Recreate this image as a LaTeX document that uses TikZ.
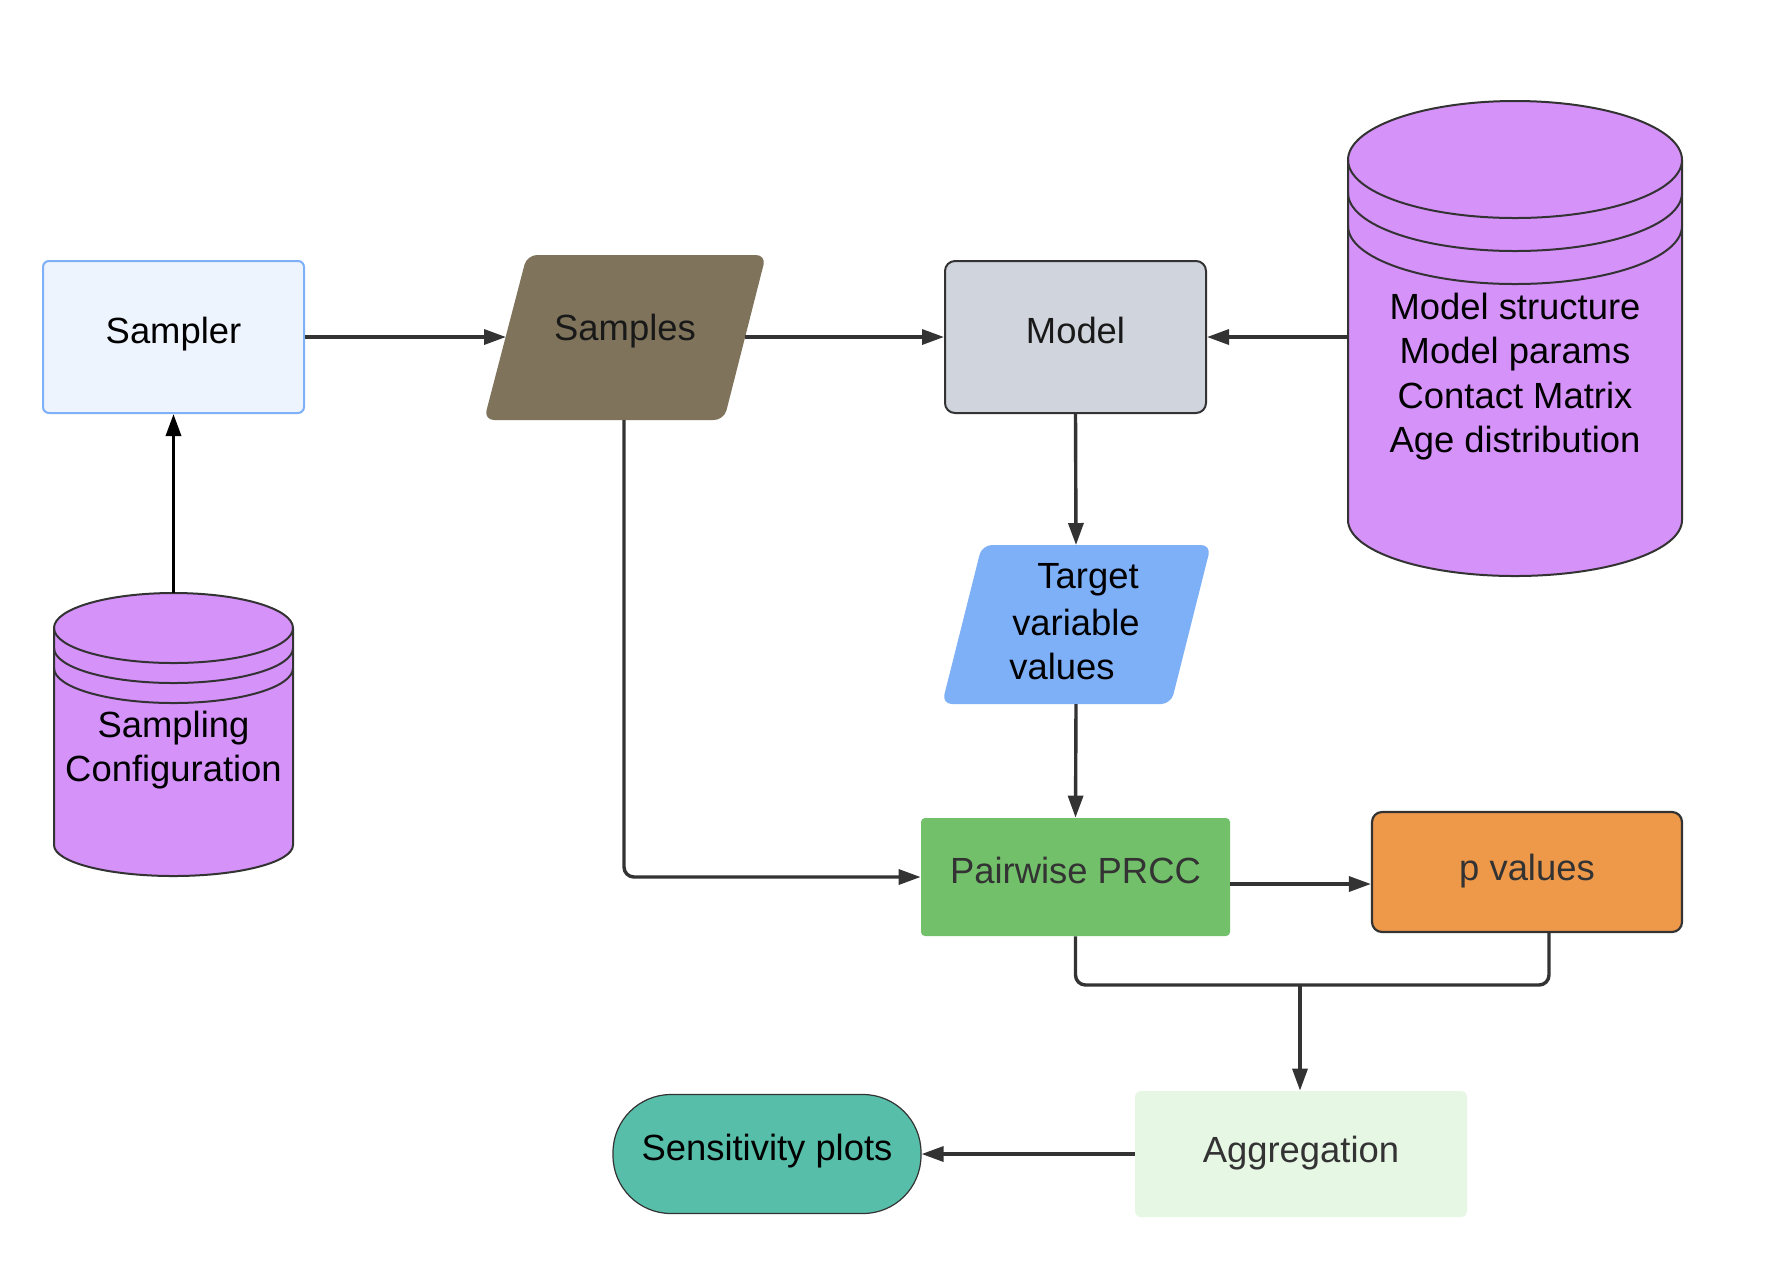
\documentclass[tikz,border=0pt]{standalone}
\usepackage{fontspec}
\setmainfont{Liberation Sans}
\usetikzlibrary{arrows.meta}
\definecolor{dark}{HTML}{333333}
\definecolor{samplerfill}{HTML}{EEF4FE}
\definecolor{samplerdraw}{HTML}{7DB0F7}
\definecolor{samplesfill}{HTML}{7F745B}
\definecolor{modelfill}{HTML}{D0D5DD}
\definecolor{cylfill}{HTML}{D592F9}
\definecolor{targetfill}{HTML}{7EB0F8}
\definecolor{prccfill}{HTML}{73C06B}
\definecolor{pvalfill}{HTML}{EE9849}
\definecolor{aggfill}{HTML}{E6F7E4}
\definecolor{sensfill}{HTML}{57BEAA}
\begin{document}
\begin{tikzpicture}[x=0.5pt,y=-0.5pt,
  font=\fontsize{18.2}{22.3}\selectfont,
  conn/.style={draw=dark, line width=1.7pt, -{Triangle[length=11pt,width=7.5pt]}},
  plainline/.style={draw=dark, line width=1.7pt},
  txt/.style={inner sep=0pt, align=center},
  cylborder/.style={draw=dark, line width=1pt},
  boxnode/.style={rectangle, inner sep=0pt, align=center, text height=13.3pt, text depth=7pt}]

\fill[white] (0,0) rectangle (1766,1266);
\useasboundingbox (0,0) rectangle (1766,1266);

% Sampler
\node[boxnode, fill=samplerfill, draw=samplerdraw, line width=1pt, rounded corners=3pt,
  minimum width=130.5pt, minimum height=76pt, text=black, text depth=7.2pt] (sampler) at (173.5,337) {Sampler};

% Samples parallelogram
\fill[samplesfill, rounded corners=5pt] (484,420) -- (724,420) -- (766,255) -- (527,255) -- cycle;
\node[txt, text=black!90] (samples) at (625,331) {Samples};
\coordinate (samplesW) at (506,337);
\coordinate (samplesE) at (745,337);
\coordinate (samplesS) at (624,420);

% Model
\node[boxnode, fill=modelfill, draw=dark, line width=1pt, rounded corners=5pt,
  minimum width=130.5pt, minimum height=76pt, text=black!90] (model) at (1075.5,337) {Model};

% Big cylinder
\fill[cylfill] (1348,160) -- (1348,520) arc[start angle=180,end angle=0,x radius=167,y radius=56]
  -- (1682,160) arc[start angle=0,end angle=-180,x radius=167,y radius=59] -- cycle;
\draw[cylborder] (1348,160) -- (1348,520) arc[start angle=180,end angle=0,x radius=167,y radius=56]
  -- (1682,160) arc[start angle=0,end angle=-180,x radius=167,y radius=59] -- cycle;
\draw[cylborder] (1348,160) arc[start angle=180,end angle=0,x radius=167,y radius=58];
\draw[cylborder] (1348,193) arc[start angle=180,end angle=0,x radius=167,y radius=58];
\draw[cylborder] (1348,226) arc[start angle=180,end angle=0,x radius=167,y radius=58];
\node[txt, text=black] (bigcyl) at (1515,376.5) {Model structure\\Model params\\Contact Matrix\\Age distribution};
\coordinate (bigW) at (1348,337);

% Sampling configuration cylinder
\fill[cylfill] (54,628) -- (54,845) arc[start angle=180,end angle=0,x radius=119.5,y radius=31]
  -- (293,628) arc[start angle=0,end angle=-180,x radius=119.5,y radius=35] -- cycle;
\draw[cylborder] (54,628) -- (54,845) arc[start angle=180,end angle=0,x radius=119.5,y radius=31]
  -- (293,628) arc[start angle=0,end angle=-180,x radius=119.5,y radius=35] -- cycle;
\draw[cylborder] (54,628) arc[start angle=180,end angle=0,x radius=119.5,y radius=35];
\draw[cylborder] (54,648) arc[start angle=180,end angle=0,x radius=119.5,y radius=35];
\draw[cylborder] (54,668) arc[start angle=180,end angle=0,x radius=119.5,y radius=35];
\node[txt, text=black] (sc) at (173.5,750) {Sampling\\Configuration};
\coordinate (scTop) at (173.5,593);

% Target variable values parallelogram
\fill[targetfill, rounded corners=5pt] (942,704) -- (1171,704) -- (1211,545) -- (982,545) -- cycle;
\node[txt, text=black] (t1) at (1088,580) {Target};
\node[txt, text=black] (t2) at (1076,622) {variable};
\node[txt, text=black] (t3) at (1062,666) {values};
\coordinate (targetN) at (1076,545);
\coordinate (targetS) at (1076,704);

% Pairwise PRCC
\node[boxnode, fill=prccfill, rounded corners=2pt, minimum width=154.5pt, minimum height=59pt,
  text=dark] (prcc) at (1075.5,877) {Pairwise PRCC};

% p values
\node[boxnode, fill=pvalfill, draw=dark, line width=1.1pt, rounded corners=5pt,
  minimum width=155pt, minimum height=60pt, text=dark, text depth=4.8pt] (pval) at (1527,872) {p values};

% Aggregation
\node[boxnode, fill=aggfill, rounded corners=3pt, minimum width=166pt, minimum height=63pt,
  text=dark, text depth=4.8pt] (agg) at (1301,1154) {Aggregation};

% Sensitivity plots
\node[boxnode, fill=sensfill, draw=dark, line width=0.6pt, rounded corners=29pt,
  minimum width=154pt, minimum height=59.5pt, text=black, text depth=6.8pt] (sens) at (767,1154) {Sensitivity plots};

% connectors
\draw[conn, draw=black] (scTop) -- (sampler.south);
\draw[conn] (sampler.east) -- (samplesW);
\draw[conn] (samplesE) -- (model.west);
\draw[conn] (bigW) -- (model.east);
\draw[conn] (model.south) -- (targetN);
\draw[conn] (targetS) -- (prcc.north);
\draw[conn, rounded corners=5pt] (samplesS) |- (prcc.west);
\coordinate (yrow) at (0,884);
\draw[conn] (prcc.east |- yrow) -- (pval.west |- yrow);
\coordinate (j) at (1300,985);
\coordinate (pvB) at (1549,932);
\draw[plainline, rounded corners=5pt] (prcc.south) |- (pvB |- j) -- (pvB);
\draw[conn, rounded corners=5pt] (j) -- (j |- agg.north);
\draw[conn] (agg.west) -- (sens.east);
\end{tikzpicture}
\end{document}
